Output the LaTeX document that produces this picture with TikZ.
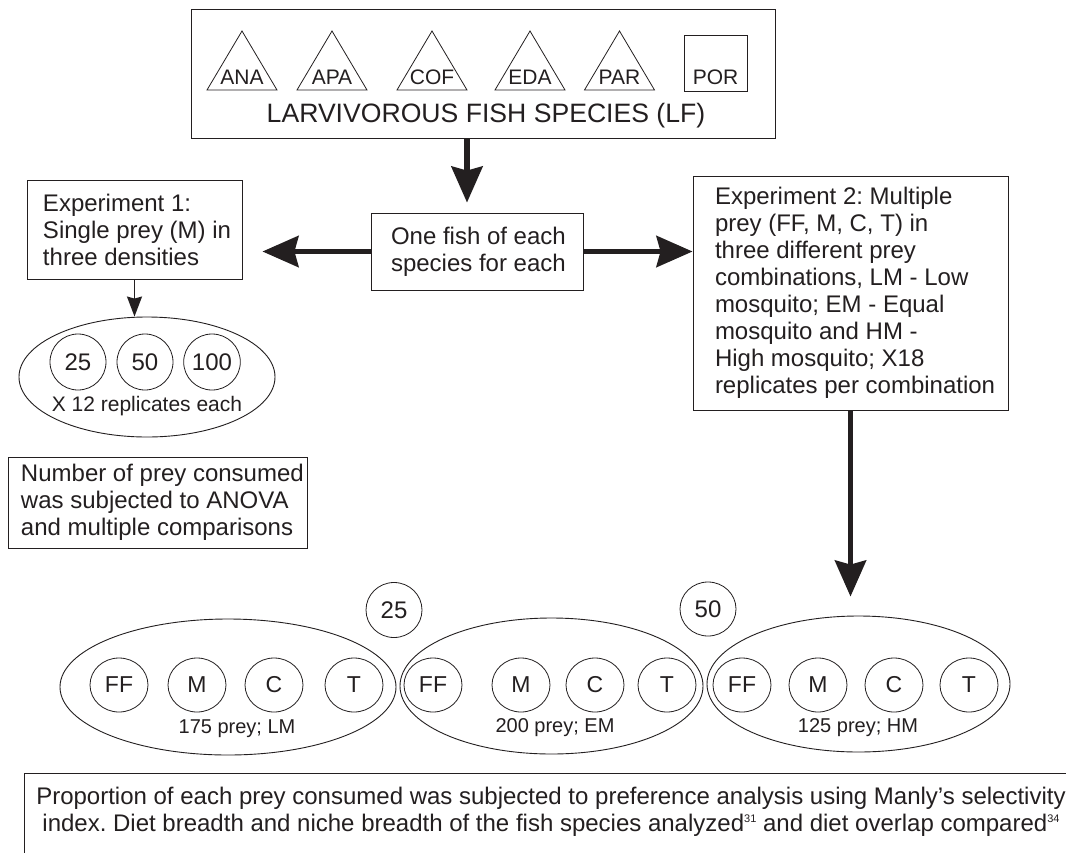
\documentclass[tikz,border=0pt]{standalone}
\usepackage{fontspec}
\setmainfont{Liberation Sans}
\usetikzlibrary{arrows.meta,shapes.geometric}
\definecolor{ink}{RGB}{35,31,32}
\frenchspacing
\newcommand\fsz[1]{\fontsize{#1pt}{27pt}\selectfont}
\newcommand\lbox[3]{\parbox{#1}{\raggedright\leftskip=#2\relax\fsz{24}#3\par}}
\begin{document}
\begin{tikzpicture}[x=1pt,y=-1pt,
  every node/.style={text=ink},
  box/.style={draw=ink, line width=0.9pt, inner sep=0pt},
  thickarr/.style={draw=ink, line width=5.5pt, -{Stealth[length=36pt,width=31pt,inset=4pt]}},
  thinarr/.style={draw=ink, line width=1.5pt, -{Stealth[length=20pt,width=15pt,inset=2pt]}},
  tri/.style={draw=ink, line width=0.8pt},
  dcirc/.style={ellipse, draw=ink, line width=0.8pt, minimum width=56pt, minimum height=56pt, inner sep=0pt, font=\fsz{24}},
  prey/.style={ellipse, draw=ink, line width=0.8pt, minimum width=58pt, minimum height=54pt, inner sep=0pt, font=\fsz{23}},
  big/.style={ellipse, draw=ink, line width=0.9pt, minimum height=136pt, inner sep=0pt},
  lab/.style={font=\fsz{20}}
]
\useasboundingbox (0,0) rectangle (1066,852);
\fill[white] (0,0) rectangle (1066,852);

% top box
\node[box, minimum width=584pt, minimum height=129pt] (top) at (483,73.5) {};
\foreach \n/\x in {ANA/242, APA/332, COF/432, EDA/530, PAR/619.5} {
  \draw[tri] (\x,31) -- (\x+35,90) -- (\x-35,90) -- cycle;
  \node[font=\fsz{21}, inner sep=0pt] (\n) at (\x,77) {\n};
}
\node[box, minimum width=63pt, minimum height=56pt] (porbox) at (715.5,63) {};
\node[font=\fsz{21}, inner sep=0pt] (POR) at (715.5,77) {POR};
\node[font=\fsz{26.6}, inner sep=0pt] (title) at (486,116) {LARVIVOROUS FISH SPECIES (LF)};

% middle boxes
\node[box, minimum width=212pt, minimum height=77pt] (fish) at (477,251.5)
  {\lbox{212pt}{20pt}{One fish of each\\species for each}};
\node[box, minimum width=215pt, minimum height=99pt] (exp1) at (134.5,229.5)
  {\lbox{215pt}{16pt}{Experiment 1:\\Single prey (M) in\\three densities}};
\node[box, minimum width=315pt, minimum height=234pt] (exp2) at (850.5,293)
  {\lbox{315pt}{22pt}{Experiment 2: Multiple\\prey (FF, M, C, T) in\\three different prey\\combinations, LM - Low\\mosquito; EM - Equal\\mosquito and HM -\\High mosquito; X18\\replicates per combination}};
\node[box, minimum width=299pt, minimum height=91pt] (anova) at (157.5,502.5)
  {\lbox{299pt}{13pt}{Number of prey consumed\\was subjected to ANOVA\\and multiple comparisons}};

% densities ellipse
\node[ellipse, draw=ink, line width=0.9pt, minimum width=256pt, minimum height=120pt, inner sep=0pt] (dens) at (147,377) {};
\node[dcirc] (d25) at (78,362) {25};
\node[dcirc] (d50) at (145,362) {50};
\node[dcirc] (d100) at (212,362) {100};
\node[font=\fsz{21}, inner sep=0pt] (rep) at (147,406) {X 12 replicates each};

% bottom ellipses
\node[big, minimum width=336pt] (lm) at (228,687) {};
\node[big, minimum width=303pt] (em) at (551.5,686) {};
\node[big, minimum width=303pt] (hm) at (858.5,684) {};
\foreach \t/\x/\nm in {FF/119/lf, M/197/lmm, C/274/lc, T/354/lt,
                       FF/433/ef, M/521/emm, C/595/ec, T/667/et,
                       FF/742/hf, M/818/hmm, C/894/hc, T/969/ht}{
  \node[prey] (\nm) at (\x,685) {\t};
}
\node[lab, inner sep=0pt] (lmlab) at (237,729) {175 prey; LM};
\node[lab, inner sep=0pt] (emlab) at (555,728) {200 prey; EM};
\node[lab, inner sep=0pt] (hmlab) at (858,728) {125 prey; HM};
\node[dcirc, minimum width=56pt, minimum height=55pt] (c25) at (394,610) {25};
\node[dcirc, minimum width=56pt, minimum height=54pt] (c50) at (708,609) {50};

% bottom box
\begin{scope}
  \clip (0,0) rectangle (1066,852);
  \draw[draw=ink, line width=0.9pt] (24,773) rectangle (1120,900);
\end{scope}
\node[font=\fsz{24}, align=center, inner sep=0pt] (prop) at (551,812)
  {Proportion of each prey consumed was subjected to preference analysis using Manly’s selectivity\\
   index. Diet breadth and niche breadth of the fish species analyzed\raisebox{9pt}{\fsz{11}31} and diet overlap compared\raisebox{9pt}{\fsz{11}34}};

% arrows
\draw[thickarr, shorten >=10pt] ([xshift=-16pt]top.south) -- ([xshift=-10pt]fish.north);
\draw[thickarr, shorten >=20pt] (fish.west) -- (fish.west -| exp1.east);
\draw[thickarr] (fish.east) -- (fish.east -| exp2.west);
\draw[thinarr] (exp1.south) -- (exp1.south |- dens.north);
\draw[thickarr, shorten >=19pt] (exp2.south) -- (exp2.south |- hm.north);
\end{tikzpicture}
\end{document}
